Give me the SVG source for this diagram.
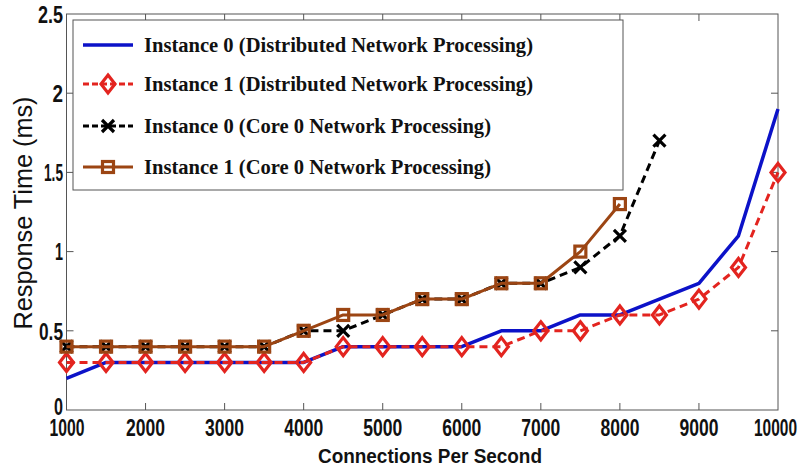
<svg xmlns="http://www.w3.org/2000/svg" width="803" height="467" viewBox="0 0 803 467">
<style>
.tick{fill:#111;font-family:"Liberation Sans",Arial,sans-serif;font-weight:bold;font-size:24px}
.leg{fill:#111;font-family:"Liberation Serif","Times New Roman",serif;font-weight:bold;font-size:20px}
.ax{stroke:#555;stroke-width:1;fill:none}
.blue{stroke:#0c12c8;stroke-width:3.5;fill:none;stroke-linejoin:round}
.red{stroke:#e3241f;stroke-width:3;fill:none;stroke-dasharray:8 5;stroke-linejoin:round}
.black{stroke:#000;stroke-width:3;fill:none;stroke-dasharray:8 5;stroke-linejoin:round}
.brown{stroke:#9c4513;stroke-width:3;fill:none;stroke-linejoin:round}
</style>
<defs>
<marker id="mDia" markerUnits="userSpaceOnUse" viewBox="-12 -12 24 24" refX="0" refY="0" markerWidth="24" markerHeight="24" overflow="visible">
<path d="M0,-9 L7,0 L0,9 L-7,0 Z" fill="none" stroke="#e3241f" stroke-width="3.2"/>
</marker>
<marker id="mX" markerUnits="userSpaceOnUse" viewBox="-12 -12 24 24" refX="0" refY="0" markerWidth="24" markerHeight="24" overflow="visible">
<path d="M-6,-6 L6,6 M-6,6 L6,-6" fill="none" stroke="#000" stroke-width="3.2"/>
</marker>
<marker id="mSq" markerUnits="userSpaceOnUse" viewBox="-12 -12 24 24" refX="0" refY="0" markerWidth="24" markerHeight="24" overflow="visible">
<rect x="-5.5" y="-5.5" width="11" height="11" fill="none" stroke="#9c4513" stroke-width="3.2"/>
</marker>
</defs>
<rect width="803" height="467" fill="#fff"/>
<g id="axes">
<rect class="ax" x="66.5" y="14" width="711.5" height="396"/>
<path class="ax" d="M145.56,410v-7M224.61,410v-7M303.67,410v-7M382.72,410v-7M461.78,410v-7M540.84,410v-7M619.89,410v-7M698.95,410v-7M145.56,14v7M224.61,14v7M303.67,14v7M382.72,14v7M461.78,14v7M540.84,14v7M619.89,14v7M698.95,14v7M66.5,330.8h7M66.5,251.6h7M66.5,172.4h7M66.5,93.2h7M778,330.8h-7M778,251.6h-7M778,172.4h-7M778,93.2h-7"/>
<g class="tick" text-anchor="end">
<text x="63" y="415" textLength="9" lengthAdjust="spacingAndGlyphs">0</text>
<text x="63" y="339.5" textLength="24" lengthAdjust="spacingAndGlyphs">0.5</text>
<text x="63" y="260.3" textLength="8" lengthAdjust="spacingAndGlyphs">1</text>
<text x="63" y="181.1" textLength="19" lengthAdjust="spacingAndGlyphs">1.5</text>
<text x="63" y="101.9" textLength="10.5" lengthAdjust="spacingAndGlyphs">2</text>
<text x="63" y="22.7" textLength="25" lengthAdjust="spacingAndGlyphs">2.5</text>
</g>
<g class="tick" text-anchor="middle">
<text x="67" y="435.5" textLength="35" lengthAdjust="spacingAndGlyphs">1000</text>
<text x="145.56" y="435.5" textLength="39" lengthAdjust="spacingAndGlyphs">2000</text>
<text x="224.61" y="435.5" textLength="39" lengthAdjust="spacingAndGlyphs">3000</text>
<text x="303.67" y="435.5" textLength="39" lengthAdjust="spacingAndGlyphs">4000</text>
<text x="382.72" y="435.5" textLength="39" lengthAdjust="spacingAndGlyphs">5000</text>
<text x="461.78" y="435.5" textLength="39" lengthAdjust="spacingAndGlyphs">6000</text>
<text x="540.84" y="435.5" textLength="39" lengthAdjust="spacingAndGlyphs">7000</text>
<text x="619.89" y="435.5" textLength="39" lengthAdjust="spacingAndGlyphs">8000</text>
<text x="698.95" y="435.5" textLength="39" lengthAdjust="spacingAndGlyphs">9000</text>
<text x="775.5" y="435.5" textLength="43" lengthAdjust="spacingAndGlyphs">10000</text>
</g>
<text x="430" y="463" text-anchor="middle" font-family="'Liberation Sans',Arial,sans-serif" font-weight="bold" font-size="20" fill="#111" textLength="224" lengthAdjust="spacingAndGlyphs">Connections Per Second</text>
<text transform="translate(32,213) rotate(-90)" text-anchor="middle" font-family="'Liberation Sans',Arial,sans-serif" font-size="26" fill="#111" textLength="233" lengthAdjust="spacingAndGlyphs">Response Time (ms)</text>
</g>
<g id="connectors">
<polyline id="s-inst0-dist" class="blue" points="66.5,378.32 106.03,362.48 145.56,362.48 185.08,362.48 224.61,362.48 264.14,362.48 303.67,362.48 343.2,346.64 382.72,346.64 422.25,346.64 461.78,346.64 501.31,330.8 540.84,330.8 580.36,314.96 619.89,314.96 659.42,299.12 698.95,283.28 738.48,235.76 778,108.96"/>
<polyline id="s-inst1-dist" class="red" marker-start="url(#mDia)" marker-mid="url(#mDia)" marker-end="url(#mDia)" points="66.5,362.48 106.03,362.48 145.56,362.48 185.08,362.48 224.61,362.48 264.14,362.48 303.67,362.48 343.2,346.64 382.72,346.64 422.25,346.64 461.78,346.64 501.31,346.64 540.84,330.8 580.36,330.8 619.89,314.96 659.42,314.96 698.95,299.12 738.48,267.44 778,172.4"/>
<polyline id="s-inst0-core" class="black" marker-start="url(#mX)" marker-mid="url(#mX)" marker-end="url(#mX)" points="66.5,346.64 106.03,346.64 145.56,346.64 185.08,346.64 224.61,346.64 264.14,346.64 303.67,330.8 343.2,330.8 382.72,314.96 422.25,299.12 461.78,299.12 501.31,283.28 540.84,283.28 580.36,267.44 619.89,235.76 659.42,140.72"/>
<polyline id="s-inst1-core" class="brown" marker-start="url(#mSq)" marker-mid="url(#mSq)" marker-end="url(#mSq)" points="66.5,346.64 106.03,346.64 145.56,346.64 185.08,346.64 224.61,346.64 264.14,346.64 303.67,330.8 343.2,314.96 382.72,314.96 422.25,299.12 461.78,299.12 501.31,283.28 540.84,283.28 580.36,251.6 619.89,204.08"/>
</g>
<g id="legend">
<rect x="73" y="20" width="550" height="170" fill="#fff" stroke="#555" stroke-width="1"/>
<line class="blue" x1="83" y1="45" x2="133" y2="45"/>
<polyline class="red" style="stroke-dasharray:6 3" marker-mid="url(#mDia)" points="83,84 108,84 133,84"/>
<polyline class="black" style="stroke-dasharray:6 3" marker-mid="url(#mX)" points="83,126 108,126 133,126"/>
<polyline class="brown" marker-mid="url(#mSq)" points="83,167 108,167 133,167"/>
<text class="leg" x="144" y="52" textLength="389" lengthAdjust="spacingAndGlyphs">Instance 0 (Distributed Network Processing)</text>
<text class="leg" x="144" y="91" textLength="389" lengthAdjust="spacingAndGlyphs">Instance 1 (Distributed Network Processing)</text>
<text class="leg" x="144" y="133" textLength="347" lengthAdjust="spacingAndGlyphs">Instance 0 (Core 0 Network Processing)</text>
<text class="leg" x="144" y="174" textLength="347" lengthAdjust="spacingAndGlyphs">Instance 1 (Core 0 Network Processing)</text>
</g>
</svg>
